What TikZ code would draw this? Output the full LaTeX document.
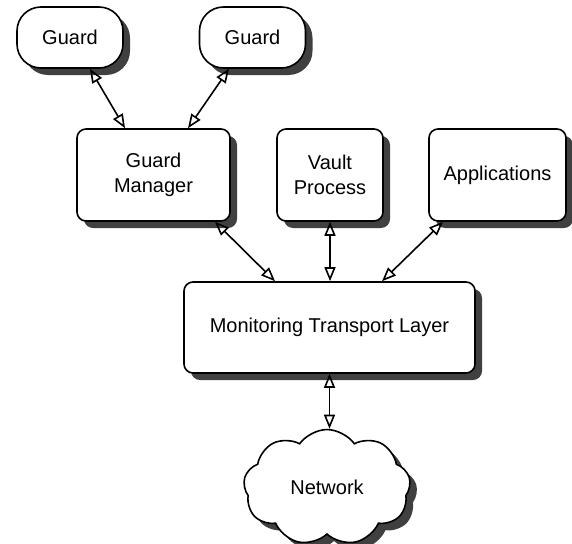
\documentclass[tikz,border=0pt]{standalone}
\usepackage{fontspec}
\setmainfont{Liberation Sans}
\usetikzlibrary{shapes, shapes.symbols, shadows, positioning, arrows.meta, calc}

\begin{document}
\begin{tikzpicture}[x=1pt, y=-1pt,
		font=\fontsize{20}{25}\selectfont,
		dropshade/.style={drop shadow={shadow xshift=7pt, shadow yshift=-7pt, fill=black!75, opacity=1}},
		guardnode/.style={draw, line width=1.6pt, fill=white, rounded corners=24pt, minimum width=106pt, minimum height=61pt, inner sep=0pt, dropshade},
		procnode/.style={draw, line width=1.6pt, fill=white, rounded corners=9pt, minimum height=92pt, align=center, inner sep=0pt, dropshade},
		cloudnode/.style={draw, cloud, cloud puffs=9, cloud puff arc=110, line width=1.6pt, fill=white, minimum width=167pt, minimum height=93pt, inner sep=0pt, dropshade},
		link/.style={{Triangle[open, length=14pt, width=11pt]}-{Triangle[open, length=14pt, width=11pt]}, line width=1.6pt}
		]
		\useasboundingbox (0,0) rectangle (572,543);
		
		% Guards
		\node[guardnode] (g1) at (70, 37.5) {Guard};
		\node[guardnode] (g2) at (252.5, 37.5) {Guard};
		
		% Middle row
		\node[procnode, minimum width=153pt] (gm) at (153.5, 175) {Guard\\Manager};
		\node[procnode, minimum width=106pt] (vp) at (330, 175) {Vault\\Process};
		\node[procnode, minimum width=137pt] (app) at (497.5, 175) {Applications};
		
		% Transport layer
		\node[procnode, minimum width=291pt, minimum height=91pt] (mtl) at (329.5, 327.5) {Monitoring Transport Layer};
		
		% Network
		\node[cloudnode] (net) at (327, 487.5) {Network};
		
		% Links
		\draw[link] ([xshift=20pt]g1.south) -- ([xshift=-28.5pt]gm.north);
		\draw[link] ([xshift=-23.5pt]g2.south) -- ([xshift=34.5pt]gm.north);
		\draw[link] ([xshift=61.5pt]gm.south) -- ([xshift=-54.5pt]mtl.north);
		\draw[link] (vp.south) -- (vp.south |- mtl.north);
		\draw[link] ([xshift=-54.5pt]app.south) -- ([xshift=52.5pt]mtl.north);
		\draw[link] (mtl.south) -- (mtl.south |- net.north);
		
	\end{tikzpicture}
\end{document}
